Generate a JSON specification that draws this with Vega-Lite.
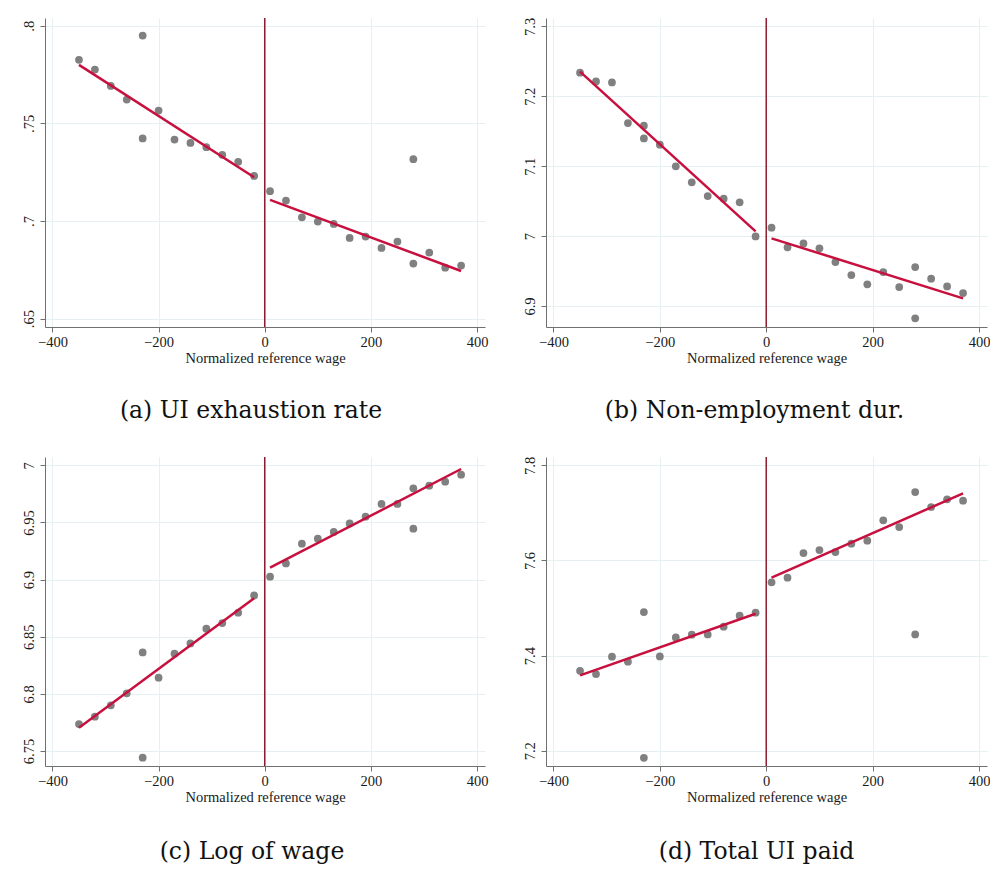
{
  "$schema": "https://vega.github.io/schema/vega-lite/v6.json",
  "background": "white",
  "padding": {"left": 20, "top": 17, "right": 0, "bottom": 0},
  "config": {
    "view": {"stroke": null},
    "font": "Liberation Serif",
    "axis": {
      "labelFont": "Liberation Serif",
      "titleFont": "Liberation Serif",
      "labelFontSize": 14.5,
      "titleFontSize": 14.5,
      "titleFontWeight": "normal",
      "labelColor": "#1a1a1a",
      "titleColor": "#1a1a1a",
      "domainColor": "#707070",
      "tickColor": "#707070",
      "tickSize": 5,
      "gridColor": "#e6eff1",
      "gridWidth": 1,
      "domainWidth": 1,
      "labelPadding": 3
    },
    "title": {"font": "DejaVu Serif", "fontSize": 23.5, "fontWeight": "normal", "color": "#111111"}
  },
  "datasets": {
    "pts": [
      {"panel": "a", "x": -350, "y": 0.7826}, {"panel": "a", "x": -320, "y": 0.7776}, {"panel": "a", "x": -290, "y": 0.7692}, {"panel": "a", "x": -260, "y": 0.7622},
      {"panel": "a", "x": -230, "y": 0.795}, {"panel": "a", "x": -230, "y": 0.7423}, {"panel": "a", "x": -200, "y": 0.7566}, {"panel": "a", "x": -170, "y": 0.7417},
      {"panel": "a", "x": -140, "y": 0.740}, {"panel": "a", "x": -110, "y": 0.7378}, {"panel": "a", "x": -80, "y": 0.7339}, {"panel": "a", "x": -50, "y": 0.7303},
      {"panel": "a", "x": -20, "y": 0.7231}, {"panel": "a", "x": 10, "y": 0.7153}, {"panel": "a", "x": 40, "y": 0.7105}, {"panel": "a", "x": 70, "y": 0.7019},
      {"panel": "a", "x": 100, "y": 0.6997}, {"panel": "a", "x": 130, "y": 0.6985}, {"panel": "a", "x": 160, "y": 0.6913}, {"panel": "a", "x": 190, "y": 0.6920},
      {"panel": "a", "x": 220, "y": 0.6862}, {"panel": "a", "x": 250, "y": 0.6895}, {"panel": "a", "x": 280, "y": 0.7317}, {"panel": "a", "x": 280, "y": 0.6782},
      {"panel": "a", "x": 310, "y": 0.6838}, {"panel": "a", "x": 340, "y": 0.6761}, {"panel": "a", "x": 370, "y": 0.6772},

      {"panel": "b", "x": -350, "y": 7.2337}, {"panel": "b", "x": -320, "y": 7.2213}, {"panel": "b", "x": -290, "y": 7.2199}, {"panel": "b", "x": -260, "y": 7.1617},
      {"panel": "b", "x": -230, "y": 7.1579}, {"panel": "b", "x": -230, "y": 7.1398}, {"panel": "b", "x": -200, "y": 7.1308}, {"panel": "b", "x": -170, "y": 7.0998},
      {"panel": "b", "x": -140, "y": 7.0769}, {"panel": "b", "x": -110, "y": 7.0573}, {"panel": "b", "x": -80, "y": 7.0535}, {"panel": "b", "x": -50, "y": 7.0483},
      {"panel": "b", "x": -20, "y": 6.9996}, {"panel": "b", "x": 10, "y": 7.012}, {"panel": "b", "x": 40, "y": 6.9839}, {"panel": "b", "x": 70, "y": 6.9896},
      {"panel": "b", "x": 100, "y": 6.9825}, {"panel": "b", "x": 130, "y": 6.9629}, {"panel": "b", "x": 160, "y": 6.9443}, {"panel": "b", "x": 190, "y": 6.931},
      {"panel": "b", "x": 220, "y": 6.9486}, {"panel": "b", "x": 250, "y": 6.9272}, {"panel": "b", "x": 280, "y": 6.9558}, {"panel": "b", "x": 280, "y": 6.8824},
      {"panel": "b", "x": 310, "y": 6.9391}, {"panel": "b", "x": 340, "y": 6.9281}, {"panel": "b", "x": 370, "y": 6.9186},

      {"panel": "c", "x": -350, "y": 6.7736}, {"panel": "c", "x": -320, "y": 6.780}, {"panel": "c", "x": -290, "y": 6.790}, {"panel": "c", "x": -260, "y": 6.8005},
      {"panel": "c", "x": -230, "y": 6.8363}, {"panel": "c", "x": -230, "y": 6.7442}, {"panel": "c", "x": -200, "y": 6.8142}, {"panel": "c", "x": -170, "y": 6.8352},
      {"panel": "c", "x": -140, "y": 6.8442}, {"panel": "c", "x": -110, "y": 6.8571}, {"panel": "c", "x": -80, "y": 6.862}, {"panel": "c", "x": -50, "y": 6.8711},
      {"panel": "c", "x": -20, "y": 6.8862}, {"panel": "c", "x": 10, "y": 6.9026}, {"panel": "c", "x": 40, "y": 6.9142}, {"panel": "c", "x": 70, "y": 6.9314},
      {"panel": "c", "x": 100, "y": 6.9358}, {"panel": "c", "x": 130, "y": 6.9417}, {"panel": "c", "x": 160, "y": 6.9492}, {"panel": "c", "x": 190, "y": 6.9551},
      {"panel": "c", "x": 220, "y": 6.9662}, {"panel": "c", "x": 250, "y": 6.9662}, {"panel": "c", "x": 280, "y": 6.9799}, {"panel": "c", "x": 280, "y": 6.9446},
      {"panel": "c", "x": 310, "y": 6.9822}, {"panel": "c", "x": 340, "y": 6.9857}, {"panel": "c", "x": 370, "y": 6.9918},

      {"panel": "d", "x": -350, "y": 7.3682}, {"panel": "d", "x": -320, "y": 7.3612}, {"panel": "d", "x": -290, "y": 7.3977}, {"panel": "d", "x": -260, "y": 7.3872},
      {"panel": "d", "x": -230, "y": 7.4916}, {"panel": "d", "x": -230, "y": 7.1853}, {"panel": "d", "x": -200, "y": 7.3984}, {"panel": "d", "x": -170, "y": 7.4383},
      {"panel": "d", "x": -140, "y": 7.4439}, {"panel": "d", "x": -110, "y": 7.4446}, {"panel": "d", "x": -80, "y": 7.4608}, {"panel": "d", "x": -50, "y": 7.4839},
      {"panel": "d", "x": -20, "y": 7.4902}, {"panel": "d", "x": 10, "y": 7.554}, {"panel": "d", "x": 40, "y": 7.5638}, {"panel": "d", "x": 70, "y": 7.6157},
      {"panel": "d", "x": 100, "y": 7.622}, {"panel": "d", "x": 130, "y": 7.6178}, {"panel": "d", "x": 160, "y": 7.6353}, {"panel": "d", "x": 190, "y": 7.6416},
      {"panel": "d", "x": 220, "y": 7.6843}, {"panel": "d", "x": 250, "y": 7.6703}, {"panel": "d", "x": 280, "y": 7.7439}, {"panel": "d", "x": 280, "y": 7.4446},
      {"panel": "d", "x": 310, "y": 7.7124}, {"panel": "d", "x": 340, "y": 7.7285}, {"panel": "d", "x": 370, "y": 7.7257}
    ],
    "fit": [
      {"panel": "a", "seg": "L", "x": -350, "y": 0.780}, {"panel": "a", "seg": "L", "x": -20, "y": 0.7224},
      {"panel": "a", "seg": "R", "x": 10, "y": 0.7108}, {"panel": "a", "seg": "R", "x": 370, "y": 0.6744},
      {"panel": "b", "seg": "L", "x": -350, "y": 7.2352}, {"panel": "b", "seg": "L", "x": -20, "y": 7.0068},
      {"panel": "b", "seg": "R", "x": 10, "y": 6.9968}, {"panel": "b", "seg": "R", "x": 370, "y": 6.911},
      {"panel": "c", "seg": "L", "x": -350, "y": 6.7704}, {"panel": "c", "seg": "L", "x": -20, "y": 6.8836},
      {"panel": "c", "seg": "R", "x": 10, "y": 6.9104}, {"panel": "c", "seg": "R", "x": 370, "y": 6.9968},
      {"panel": "d", "seg": "L", "x": -350, "y": 7.3584}, {"panel": "d", "seg": "L", "x": -20, "y": 7.4881},
      {"panel": "d", "seg": "R", "x": 10, "y": 7.5638}, {"panel": "d", "seg": "R", "x": 370, "y": 7.7411}
    ],
    "zero": [{"x": 0}]
  },
  "bounds": "flush",
  "columns": 2,
  "spacing": {"row": 130, "column": 61},
  "concat": [
    {
      "width": 440, "height": 309,
      "title": {"text": "(a) UI exhaustion rate", "orient": "bottom", "offset": 34, "dx": -14},
      "layer": [
        {"data": {"name": "zero"}, "mark": {"type": "rule", "color": "#8c1d2e", "strokeWidth": 1.5},
         "encoding": {"x": {"field": "x", "type": "quantitative", "scale": {"domain": [-414, 415], "nice": false, "zero": false},
           "axis": {"values": [-400, -200, 0, 200, 400], "title": "Normalized reference wage", "titlePadding": 3}}}},
        {"data": {"name": "pts"}, "transform": [{"filter": "datum.panel == 'a'"}],
         "mark": {"type": "circle", "size": 60, "color": "#808080", "opacity": 1},
         "encoding": {
           "x": {"field": "x", "type": "quantitative"},
           "y": {"field": "y", "type": "quantitative", "scale": {"domain": [0.6457, 0.804], "nice": false, "zero": false},
             "axis": {"values": [0.65, 0.7, 0.75, 0.8], "title": null, "labelAngle": -90, "labelAlign": "center", "labelBaseline": "bottom", "labelPadding": 4, "labelExpr": "replace(toString(datum.value), /^0/, '')"}}}},
        {"data": {"name": "fit"}, "transform": [{"filter": "datum.panel == 'a'"}],
         "mark": {"type": "line", "color": "#c8103e", "strokeWidth": 2.5},
         "encoding": {"x": {"field": "x", "type": "quantitative"}, "y": {"field": "y", "type": "quantitative"}, "detail": {"field": "seg"}}}
      ]
    },
    {
      "width": 441, "height": 309,
      "title": {"text": "(b) Non-employment dur.", "orient": "bottom", "offset": 34, "dx": -12},
      "layer": [
        {"data": {"name": "zero"}, "mark": {"type": "rule", "color": "#8c1d2e", "strokeWidth": 1.5},
         "encoding": {"x": {"field": "x", "type": "quantitative", "scale": {"domain": [-414, 415], "nice": false, "zero": false},
           "axis": {"values": [-400, -200, 0, 200, 400], "title": "Normalized reference wage", "titlePadding": 3}}}},
        {"data": {"name": "pts"}, "transform": [{"filter": "datum.panel == 'b'"}],
         "mark": {"type": "circle", "size": 60, "color": "#808080", "opacity": 1},
         "encoding": {
           "x": {"field": "x", "type": "quantitative"},
           "y": {"field": "y", "type": "quantitative", "scale": {"domain": [6.870, 7.312], "nice": false, "zero": false},
             "axis": {"values": [6.9, 7, 7.1, 7.2, 7.3], "title": null, "labelAngle": -90, "labelAlign": "center", "labelBaseline": "bottom", "labelPadding": 4, "labelExpr": "replace(toString(datum.value), /^0/, '')"}}}},
        {"data": {"name": "fit"}, "transform": [{"filter": "datum.panel == 'b'"}],
         "mark": {"type": "line", "color": "#c8103e", "strokeWidth": 2.5},
         "encoding": {"x": {"field": "x", "type": "quantitative"}, "y": {"field": "y", "type": "quantitative"}, "detail": {"field": "seg"}}}
      ]
    },
    {
      "width": 440, "height": 309,
      "title": {"text": "(c) Log of wage", "orient": "bottom", "offset": 36, "dx": -13},
      "layer": [
        {"data": {"name": "zero"}, "mark": {"type": "rule", "color": "#8c1d2e", "strokeWidth": 1.5},
         "encoding": {"x": {"field": "x", "type": "quantitative", "scale": {"domain": [-414, 415], "nice": false, "zero": false},
           "axis": {"values": [-400, -200, 0, 200, 400], "title": "Normalized reference wage", "titlePadding": 3}}}},
        {"data": {"name": "pts"}, "transform": [{"filter": "datum.panel == 'c'"}],
         "mark": {"type": "circle", "size": 60, "color": "#808080", "opacity": 1},
         "encoding": {
           "x": {"field": "x", "type": "quantitative"},
           "y": {"field": "y", "type": "quantitative", "scale": {"domain": [6.7369, 7.0073], "nice": false, "zero": false},
             "axis": {"values": [6.75, 6.8, 6.85, 6.9, 6.95, 7], "title": null, "labelAngle": -90, "labelAlign": "center", "labelBaseline": "bottom", "labelPadding": 4, "labelExpr": "replace(toString(datum.value), /^0/, '')"}}}},
        {"data": {"name": "fit"}, "transform": [{"filter": "datum.panel == 'c'"}],
         "mark": {"type": "line", "color": "#c8103e", "strokeWidth": 2.5},
         "encoding": {"x": {"field": "x", "type": "quantitative"}, "y": {"field": "y", "type": "quantitative"}, "detail": {"field": "seg"}}}
      ]
    },
    {
      "width": 441, "height": 309,
      "title": {"text": "(d) Total UI paid", "orient": "bottom", "offset": 36, "dx": -10},
      "layer": [
        {"data": {"name": "zero"}, "mark": {"type": "rule", "color": "#8c1d2e", "strokeWidth": 1.5},
         "encoding": {"x": {"field": "x", "type": "quantitative", "scale": {"domain": [-414, 415], "nice": false, "zero": false},
           "axis": {"values": [-400, -200, 0, 200, 400], "title": "Normalized reference wage", "titlePadding": 3}}}},
        {"data": {"name": "pts"}, "transform": [{"filter": "datum.panel == 'd'"}],
         "mark": {"type": "circle", "size": 60, "color": "#808080", "opacity": 1},
         "encoding": {
           "x": {"field": "x", "type": "quantitative"},
           "y": {"field": "y", "type": "quantitative", "scale": {"domain": [7.168, 7.8175], "nice": false, "zero": false},
             "axis": {"values": [7.2, 7.4, 7.6, 7.8], "title": null, "labelAngle": -90, "labelAlign": "center", "labelBaseline": "bottom", "labelPadding": 4, "labelExpr": "replace(toString(datum.value), /^0/, '')"}}}},
        {"data": {"name": "fit"}, "transform": [{"filter": "datum.panel == 'd'"}],
         "mark": {"type": "line", "color": "#c8103e", "strokeWidth": 2.5},
         "encoding": {"x": {"field": "x", "type": "quantitative"}, "y": {"field": "y", "type": "quantitative"}, "detail": {"field": "seg"}}}
      ]
    }
  ]
}
